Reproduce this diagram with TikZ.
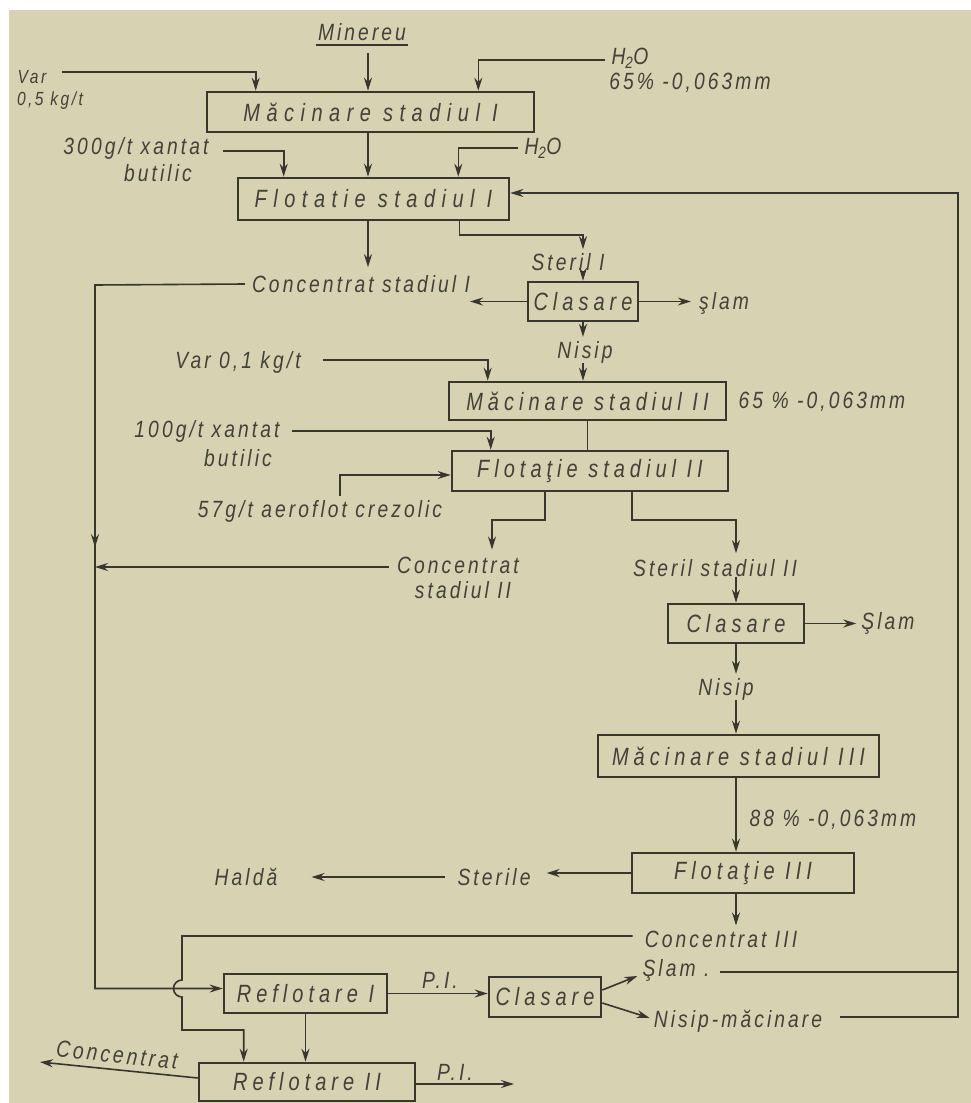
\documentclass[tikz,border=0pt]{standalone}
\usepackage{fontspec}
\setmainfont{Liberation Sans}
\newfontfamily\labf{Liberation Sans}[FakeStretch=0.82, LetterSpace=13]
\newfontfamily\boxf{Liberation Sans}[FakeStretch=0.8, LetterSpace=20]
\newfontfamily\boxfw{Liberation Sans}[FakeStretch=0.8, LetterSpace=26]
\usetikzlibrary{arrows.meta,calc,decorations.markings}
\definecolor{paper}{RGB}{214,210,178}
\definecolor{ink}{RGB}{55,55,45}
\definecolor{txt}{RGB}{66,66,56}
\tikzset{
  lbl/.style={font=\labf\itshape\fontsize{23.5}{25}\selectfont, text=txt, inner sep=0pt},
  pbox/.style={draw=ink, line width=2.6pt, inner sep=0pt, text=txt,
    font=\boxf\itshape\fontsize{25}{27}\selectfont},
  pboxw/.style={pbox, font=\boxfw\itshape\fontsize{25}{27}\selectfont},
  ln/.style={draw=ink, line width=1.6pt},
  arr/.style={ln, -{Stealth[length=13pt,width=8pt]}},
}
\begin{document}
\begin{tikzpicture}[x=1pt,y=-1pt]
\useasboundingbox (0,0) rectangle (971,1103);
\fill[white] (0,0) rectangle (971,1103);
\fill[paper] (9,10) rectangle (971,1103);

% ---------- stage I ----------
\node[lbl] (min) at (362,32) {Minereu};
\draw[ink, line width=2.2pt] ($(min.south west)+(-2,4)$) -- ($(min.south east)+(2,4)$);
\coordinate (minA) at (368,53);

\node[pboxw, minimum width=327pt, minimum height=40pt] (m1) at (370.5,112) {Măcinare stadiul I};
\node[pboxw, minimum width=271pt, minimum height=42pt] (f1) at (373.5,199) {Flotatie stadiul I};

\node[lbl, font=\labf\itshape\fontsize{19}{21}\selectfont] (var) at (32,77) {Var};
\node[lbl, font=\labf\itshape\fontsize{19}{21}\selectfont] (var2) at (50,101) {0,5 kg/t};
\coordinate (varE) at (62,72);
\draw[arr] (varE) -| ([xshift=50pt]m1.north west);
\draw[arr] (minA) -- (minA |- m1.north);

\node[lbl] (h2o) at (630,58) {H\textsubscript{2}O};
\node[lbl] (pct1) at (690,83) {65\% -0,063mm};
\draw[arr] ($(h2o.west)+(-6,2)$) -| ([xshift=-57pt]m1.north east);

\node[lbl] (x300) at (136,148) {300g/t xantat};
\node[lbl] (but1) at (158,173) {butilic};
\draw[arr] ($(x300.east)+(14,3)$) -| ([xshift=47pt]f1.north west);
\draw[arr] (m1.south -| minA) -- (minA |- f1.north);
\node[lbl] (h2ob) at (543,148) {H\textsubscript{2}O};
\draw[arr] ($(h2ob.west)+(-6,0)$) -| ([xshift=-52pt]f1.north east);

% recycle line on the right
\coordinate (rTop) at (958,193);
\node[lbl] (nism) at (738,1021) {Nisip-măcinare};
\draw[arr] ($(nism.east)+(18,-4)$) -- ($(nism.east -| rTop)+(0,-4)$) -- (rTop) -- (rTop -| f1.east);

% outputs of flotation I
\node[lbl] (con1) at (361,284) {Concentrat stadiul I};
\draw[arr] (f1.south -| minA) -- ($(con1.north -| minA)+(0,-8)$);
\node[lbl] (st1) at (568,262) {Steril I};
\node[pbox, minimum width=110pt, minimum height=39pt] (c1) at (583,301.5) {Clasare};
\coordinate (s1k) at (458,235);
\draw[arr] ([xshift=-51pt]f1.south east) |- (s1k -| c1.north) -- ($(c1.north |- st1.north)+(0,-4)$);
\draw[arr] (st1.south -| c1.north) -- (c1.north);
\coordinate (c1L) at (470,302);
\draw[arr] (c1.west) -- (c1.west -| c1L);
\node[lbl] (sl1) at (724,303) {şlam};
\draw[arr] (c1.east) -- ($(c1.east -| sl1.west)+(-8,0)$);
\node[lbl] (nis1) at (585,352) {Nisip};
\draw[arr] (c1.south) -- ($(c1.south |- nis1.north)+(0,-4)$);

% ---------- stage II ----------
\node[pbox, minimum width=277pt, minimum height=38pt] (m2) at (587.5,401) {Măcinare stadiul II};
\draw[arr] (nis1.south -| c1.south) -- (c1.south |- m2.north);
\node[lbl] (var3) at (238,362) {Var 0,1 kg/t};
\draw[arr] ($(var3.east)+(22,-2)$) -| ([xshift=40pt]m2.north west);
\node[lbl] (pct2) at (822,402) {65 \% -0,063mm};

\node[pbox, minimum width=276pt, minimum height=40pt] (f2) at (590,471) {Flotaţie stadiul II};
\draw[ln] (m2.south) -- (m2.south |- f2.north);
\node[lbl] (x100) at (207,431) {100g/t xantat};
\node[lbl] (but2) at (238,458) {butilic};
\draw[arr] ($(x100.east)+(12,0)$) -| ([xshift=40pt]f2.north west);
\node[lbl] (aer) at (320,511) {57g/t aeroflot crezolic};
\coordinate (aerK) at (340,475);
\draw[arr] ($(aer.north -| aerK)+(0,-4)$) |- ([yshift=-4pt]f2.west);

\node[lbl] (con2a) at (458,565) {Concentrat};
\node[lbl] (con2b) at (463,590) {stadiul II};
\coordinate (c2k) at (492,520);
\draw[arr] ([xshift=-45pt]f2.south) |- (c2k) -- ($(c2k |- con2a.north)+(0,-7)$);
\node[lbl] (st2) at (715,568) {Steril stadiul II};
\coordinate (s2k) at (736,520);
\draw[arr] ([xshift=42pt]f2.south) |- (s2k) -- ($(s2k |- st2.north)+(0,-6)$);

% left collecting line
\coordinate (lx) at (95,285);
\node[pbox, minimum width=163pt, minimum height=39pt] (r1) at (305.5,993.5) {Reflotare I};
\coordinate (r1in) at ($(r1.west)+(0,-5)$);
\draw[arr, postaction={decorate}, decoration={markings,
  mark=at position 0.42 with {\arrow{Stealth[length=13pt,width=8pt]}}}]
  ($(con1.west)+(-7,0)$) -- (lx) -- (lx |- r1in) -- (r1in);
\draw[arr] ($(con2a.west)+(-8,2)$) -- ($(con2a.west -| lx)+(0,2)$);

% ---------- stage III ----------
\node[pbox, minimum width=136pt, minimum height=39pt] (c2) at (736,623.5) {Clasare};
\draw[arr] (st2.south -| c2.north) -- (c2.north);
\node[lbl] (sl2) at (888,623) {Şlam};
\draw[arr] (c2.east) -- ($(c2.east -| sl2.west)+(-5,0)$);
\node[lbl] (nis2) at (726,689) {Nisip};
\draw[arr] (c2.south) -- ($(c2.south |- nis2.north)+(0,-4)$);
\node[pbox, minimum width=281pt, minimum height=42pt] (m3) at (738.5,756) {Măcinare stadiul III};
\draw[arr] (nis2.south -| c2.south) -- (c2.south |- m3.north);
\node[lbl] (pct3) at (833,820) {88 \% -0,063mm};
\node[pbox, minimum width=222pt, minimum height=40pt] (f3) at (743,873) {Flotaţie III};
\draw[arr] (m3.south -| c2.south) -- (c2.south |- f3.north);
\node[lbl] (ster) at (494,877) {Sterile};
\draw[arr] (f3.west) -- ($(f3.west -| ster.east)+(16,0)$);
\node[lbl] (hal) at (246,877) {Haldă};
\draw[arr] ($(ster.west)+(-12,0)$) -- ($(hal.east)+(34,0)$);
\node[lbl] (con3) at (721,939) {Concentrat III};
\draw[arr] (f3.south -| c2.south) -- ($(c2.south |- con3.north)+(0,-5)$);

% ---------- re-flotation ----------
\node[pbox, minimum width=216pt, minimum height=38pt] (r2) at (307,1082) {Reflotare II};
\coordinate (hopT) at (182,980);
\coordinate (turn) at (182,1030);
\draw[arr] ($(con3.west)+(-12,-3)$) -- ($(hopT |- con3.west)+(0,-3)$) -- (hopT)
  arc[start angle=90, end angle=270, radius=8.5pt] -- (turn) -| ([xshift=46pt]r2.north west);

\node[pbox, minimum width=112pt, minimum height=40pt] (c3) at (545,997) {Clasare};
\draw[arr] (r1.east) -- (r1.east -| c3.west);
\node[lbl] (pi1) at (440,980) {P.I.};
\node[lbl] (sl3) at (676,970) {Şlam .};
\draw[arr] ([yshift=7pt]c3.east) -- ($(sl3.west)+(-5,6)$);
\draw[arr] ([yshift=-6pt]c3.east) -- ($(nism.west)+(-4,-3)$);
\draw[ln] ($(sl3.east)+(10,2)$) -- ($(sl3.east -| rTop)+(0,2)$);

\draw[arr] (r1.south) -- (r1.south |- r2.north);
\node[lbl, rotate=-6] (conc) at (117,1055) {Concentrat};
\coordinate (concTip) at (40,1062);
\draw[arr] ([yshift=4pt]r2.west) -- (concTip);
\node[lbl] (pi2) at (455,1072) {P.I.};
\coordinate (piTip) at (514,1084);
\draw[arr] ([yshift=-2pt]r2.east) -- (piTip);
\end{tikzpicture}
\end{document}
